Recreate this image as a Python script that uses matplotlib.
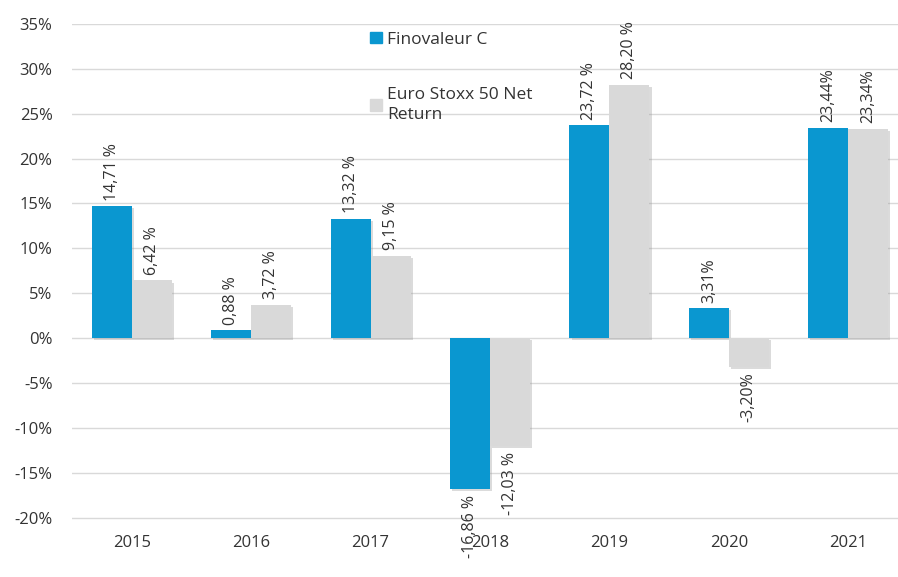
import matplotlib
matplotlib.use('Agg')
import numpy as np
from matplotlib import pyplot as plt
from matplotlib import patheffects as pe
from matplotlib.patches import Patch

years = ['2015', '2016', '2017', '2018', '2019', '2020', '2021']
fino = [14.71, 0.88, 13.32, -16.86, 23.72, 3.31, 23.44]
stoxx = [6.42, 3.72, 9.15, -12.03, 28.20, -3.20, 23.34]
fino_labels = ['14,71 %', '0,88 %', '13,32 %', '-16,86 %', '23,72 %', '3,31%', '23,44%']
stoxx_labels = ['6,42 %', '3,72 %', '9,15 %', '-12,03 %', '28,20 %', '-3,20%', '23,34%']
yticks = [-20, -15, -10, -5, 0, 5, 10, 15, 20, 25, 30, 35]

blue = '#0A97D0'
grey = '#D9D9D9'

plt.rcParams['font.family'] = ['Open Sans', 'DejaVu Sans']

fig = plt.figure(figsize=(8.98, 5.77), dpi=100)
ax = fig.add_axes([72/898, 46/577, 836/898, 507/577])

x = np.arange(len(years))
w = 0.335
shadow = [pe.SimplePatchShadow(offset=(1.5, -1.5), shadow_rgbFace='#999999', alpha=0.35), pe.Normal()]

ax.bar(x - w/2, fino, w, color=blue, zorder=3, path_effects=shadow)
ax.bar(x + w/2, stoxx, w, color=grey, zorder=3, path_effects=shadow)

# value labels, rotated, outside the bar end
for xs, vals, labs in [(x - w/2, fino, fino_labels), (x + w/2, stoxx, stoxx_labels)]:
    for xi, v, lab in zip(xs, vals, labs):
        if v >= 0:
            ax.annotate(lab, (xi, v), xytext=(0, 4), textcoords='offset points',
                        rotation=90, ha='center', va='bottom', fontsize=11.5, color='#333333')
        else:
            ax.annotate(lab, (xi, v), xytext=(0, -4), textcoords='offset points',
                        rotation=90, ha='center', va='top', fontsize=11.5, color='#333333')

ax.set_xlim(-0.5, 6.5)
ax.set_ylim(-21.5, 35)
ax.set_yticks(yticks)
ax.set_yticklabels([f'{t}%' for t in yticks])
ax.set_xticks(x)
ax.set_xticklabels(years)
ax.tick_params(axis='y', length=0, pad=14, labelsize=12, labelcolor='#333333')
ax.tick_params(axis='x', length=0, pad=3, labelsize=12, labelcolor='#333333')
ax.grid(axis='y', color='#D9D9D9', linewidth=1, zorder=0)
for s in ax.spines.values():
    s.set_visible(False)

handles = [Patch(color=blue), Patch(color=grey)]
leg = ax.legend(handles, ['Finovaleur C', 'Euro Stoxx 50 Net\nReturn'],
                loc='upper left', bbox_to_anchor=(0.357, 0.985), frameon=False,
                borderaxespad=0, borderpad=0,
                fontsize=12.5, handlelength=0.65, handleheight=0.65, handletextpad=0.3,
                labelspacing=2.25, labelcolor='#333333')
leg.get_texts()[1].set_linespacing(1.4)

fig.savefig('out.png', dpi=100)
